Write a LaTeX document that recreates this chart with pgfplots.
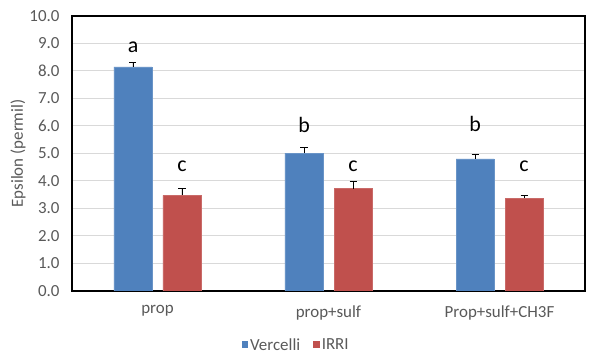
\documentclass[border=0pt]{standalone}
\usepackage{pgfplots}
\pgfplotsset{compat=1.18}
\usepackage{fontspec}
\setmainfont{Carlito}
\definecolor{vblue}{HTML}{4F81BD}
\definecolor{irred}{HTML}{C0504D}
\definecolor{txtgray}{HTML}{595959}
\definecolor{gridgray}{HTML}{D9D9D9}

\begin{document}
\begin{tikzpicture}
\path[use as bounding box] (-72bp,-67bp) rectangle (528bp,291bp);
\begin{axis}[
    at={(0,0)}, anchor=south west,
    scale only axis,
    width=513bp, height=275bp,
    ybar=11bp, bar width=38bp,
    xmin=-0.5, xmax=2.5,
    ymin=0, ymax=10,
    xtick={0,1,2},
    xticklabels={prop, prop+sulf, Prop+sulf+CH3F},
    ytick={0,1,...,10},
    major tick length=0pt,
    ymajorgrids,
    grid style={gridgray, line width=1bp},
    axis line style={black, line width=1.5bp},
    font=\fontsize{17}{19}\selectfont,
    /pgf/number format/assume math mode=true,
    yticklabel={\pgfmathprintnumber[fixed, fixed zerofill, precision=1]{\tick}},
    yticklabel style={txtgray, xshift=-9bp},
    xticklabel style={txtgray, yshift=-11bp},
    every axis y label/.style={at={(axis description cs:-0.105,0.5)}, rotate=90, anchor=center},
    ylabel={Epsilon (permil)},
    ylabel style={txtgray},
    legend style={at={(axis description cs:0.437,-0.196)}, anchor=center, draw=none,
        fill=none, font=\fontsize{17}{19}\selectfont\color{txtgray},
        /tikz/every even column/.append style={column sep=11bp}},
    legend columns=-1,
    legend image code/.code={\fill[#1, draw=none] (0bp,-3bp) rectangle (6.5bp,3.5bp);},
    error bars/error bar style={black, line width=0.8bp},
    error bars/error mark options={rotate=90, mark size=3.5bp, line width=0.8bp, black},
]
\addplot[fill=vblue, draw=vblue!85!white, line width=0.6bp,
    error bars/.cd, y dir=plus, y explicit]
    coordinates {(0,8.15) +- (0,0.16) (1,5.01) +- (0,0.21) (2,4.80) +- (0,0.18)};
\addlegendentry{Vercelli}
\addplot[fill=irred, draw=irred!85!white, line width=0.6bp,
    error bars/.cd, y dir=plus, y explicit]
    coordinates {(0,3.48) +- (0,0.24) (1,3.72) +- (0,0.27) (2,3.38) +- (0,0.11)};
\addlegendentry{IRRI}
\node[font=\fontsize{22}{24}\selectfont] at (axis cs:-0.143,8.87) {a};
\node[font=\fontsize{22}{24}\selectfont] at (axis cs:0.143,4.53) {c};
\node[font=\fontsize{22}{24}\selectfont] at (axis cs:0.857,6.04) {b};
\node[font=\fontsize{22}{24}\selectfont] at (axis cs:1.143,4.53) {c};
\node[font=\fontsize{22}{24}\selectfont] at (axis cs:1.857,6.06) {b};
\node[font=\fontsize{22}{24}\selectfont] at (axis cs:2.143,4.55) {c};
\end{axis}
\end{tikzpicture}
\end{document}
